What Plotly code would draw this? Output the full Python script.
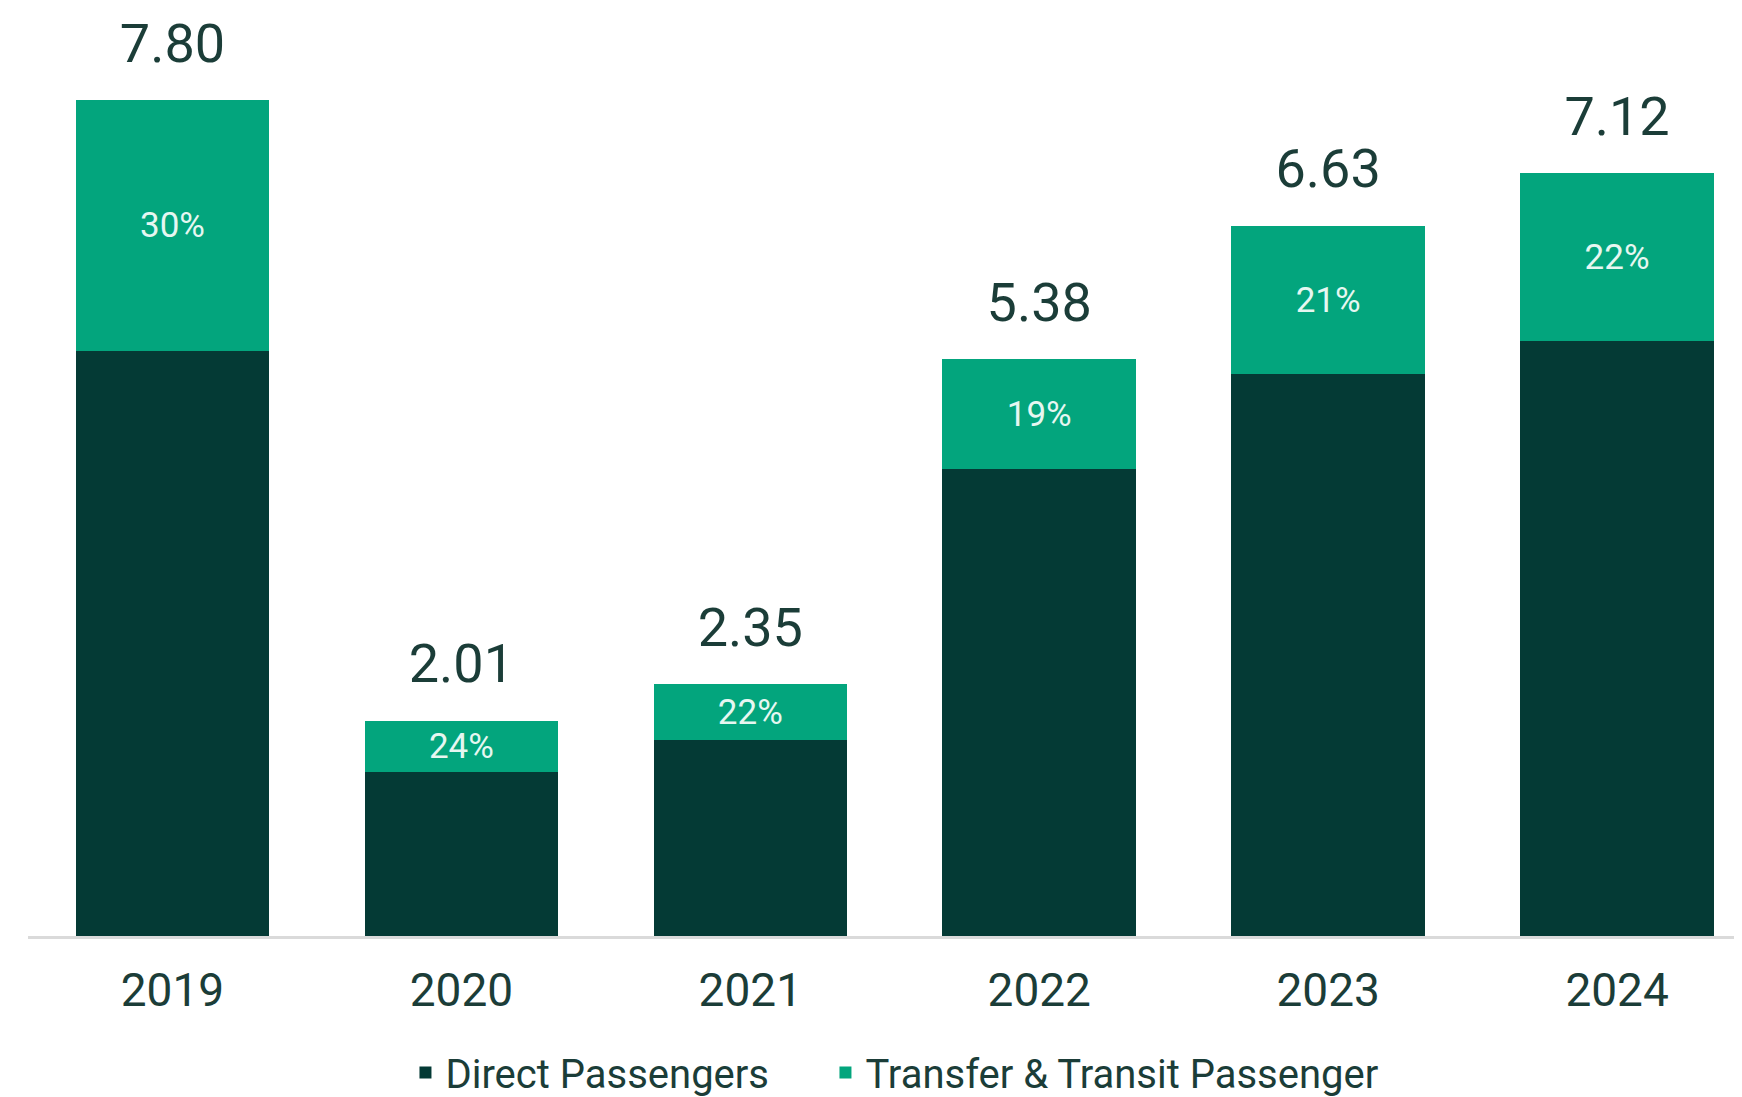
import plotly.graph_objects as go

years = ["2019", "2020", "2021", "2022", "2023", "2024"]
totals = [7.80, 2.01, 2.35, 5.38, 6.63, 7.12]
direct = [5.46, 1.53, 1.83, 4.36, 5.24, 5.55]
transfer = [2.34, 0.48, 0.52, 1.02, 1.39, 1.57]
transfer_share = ["30%", "24%", "22%", "19%", "21%", "22%"]
total_labels = ["7.80", "2.01", "2.35", "5.38", "6.63", "7.12"]

DARK = "#043A35"
TEAL = "#03A57D"
TEXT = "#1B3D38"

fig = go.Figure()
fig.add_trace(go.Bar(x=years, y=direct, name="Direct Passengers",
                     marker=dict(color=DARK, line=dict(width=0)), legend="legend"))
fig.add_trace(go.Bar(x=years, y=transfer, name="Transfer & Transit Passenger",
                     marker=dict(color=TEAL, line=dict(width=0)), legend="legend2",
                     text=transfer_share, textposition="inside",
                     insidetextanchor="middle", constraintext="none",
                     textfont=dict(family="Roboto", size=35, color="#E6F7F1")))
# invisible markers push the total labels upward off the bar tops
fig.add_trace(go.Scatter(x=years, y=totals, text=total_labels, mode="markers+text",
                         marker=dict(size=38, opacity=0, color="white"),
                         textposition="top center", showlegend=False, cliponaxis=False,
                         hoverinfo="skip",
                         textfont=dict(family="Roboto", size=54, color=TEXT)))

legend_style = dict(orientation="h", y=-0.15, yanchor="middle", xanchor="left",
                    font=dict(family="Roboto", size=40, color=TEXT),
                    bgcolor="rgba(0,0,0,0)")

fig.update_layout(
    width=1742, height=1097,
    barmode="stack", bargap=0.33,
    plot_bgcolor="white", paper_bgcolor="white",
    margin=dict(l=20, r=0, t=15, b=158),
    showlegend=True,
    legend=dict(x=0.2192, **legend_style),
    legend2=dict(x=0.4631, **legend_style),
    xaxis=dict(type="category", range=[-0.5, 5.46], showgrid=False,
               showline=True, linecolor="#DADADA", linewidth=3,
               tickfont=dict(family="Roboto", size=46, color=TEXT),
               ticks="", ticklabelstandoff=12),
    yaxis=dict(range=[0, 8.52], visible=False, showgrid=False, zeroline=False),
)

fig.write_html("out.html")
